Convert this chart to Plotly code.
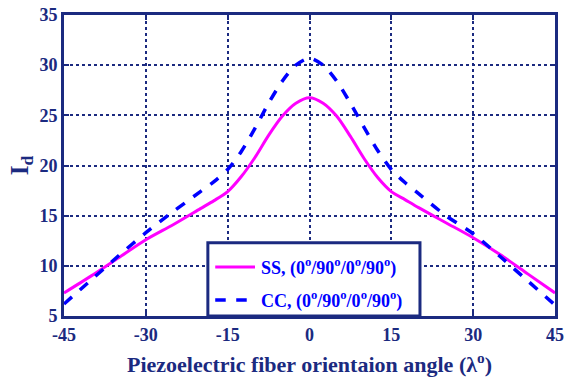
import plotly.graph_objects as go

# Fiber orientation angle (degrees)
angle = [-45, -40, -35, -30, -25, -20, -17.5, -15, -12.5, -10, -7.5, -5, -2.5, 0,
         2.5, 5, 7.5, 10, 12.5, 15, 17.5, 20, 25, 30, 35, 40, 45]

# I_d for simply supported (SS) and clamped (CC) laminates, (0/90/0/90)
ss_values = [7.3, 9.0, 10.8, 12.6, 14.1, 15.7, 16.5, 17.4, 18.9, 20.8, 23.0, 24.9, 26.2, 26.75,
             26.2, 24.9, 22.9, 20.7, 18.8, 17.4, 16.6, 15.8, 14.3, 12.8, 11.1, 9.2, 7.3]
cc_values = [6.2, 8.6, 11.0, 13.3, 15.4, 17.4, 18.4, 19.6, 21.4, 23.7, 26.2, 28.4, 30.0, 30.7,
             30.0, 28.4, 26.2, 23.8, 21.5, 19.6, 18.3, 17.2, 15.0, 13.2, 10.9, 8.5, 6.1]

x_ticks = [-45, -30, -15, 0, 15, 30, 45]
y_ticks = [5, 10, 15, 20, 25, 30, 35]

series_names = ["SS, (0<sup>o</sup>/90<sup>o</sup>/0<sup>o</sup>/90<sup>o</sup>)",
                "CC, (0<sup>o</sup>/90<sup>o</sup>/0<sup>o</sup>/90<sup>o</sup>)"]
series_colors = ["#ff00ff", "#0000ff"]
series_dash = ["solid", "dash"]
series_width = [3, 3.5]

navy = "#1b2a80"
font_family = "Liberation Serif, Times New Roman, serif"

fig = go.Figure()
for vals, name, col, dash, w in zip([ss_values, cc_values], series_names,
                                    series_colors, series_dash, series_width):
    fig.add_trace(go.Scatter(
        x=angle, y=vals, mode="lines", line_shape="spline",
        line=dict(color=col, width=w, dash=dash, smoothing=0.8),
        name=name, showlegend=False,
    ))

axis_common = dict(
    showline=True, linecolor=navy, linewidth=3, mirror="allticks",
    ticks="inside", ticklen=5, tickwidth=2, tickcolor=navy,
    showgrid=True, gridcolor=navy, griddash="dot", gridwidth=1.5,
    zeroline=False, automargin=False,
    tickfont=dict(family=font_family, size=18, color=navy, weight="bold"),
)

fig.update_xaxes(
    range=[-45, 45], tickvals=x_ticks, ticktext=[str(v) for v in x_ticks],
    title=dict(text="Piezoelectric fiber orientaion angle (λ<sup>o</sup>)",
               font=dict(family=font_family, size=22, color=navy, weight="bold"),
               standoff=14),
    **axis_common,
)
fig.update_yaxes(
    range=[5, 35], tickvals=y_ticks, ticktext=[str(v) for v in y_ticks],
    title=dict(text="I<sub>d</sub>",
               font=dict(family=font_family, size=25, color=navy, weight="bold"),
               standoff=4),
    **axis_common,
)

# Legend box drawn in plot-area coordinates
box_x0, box_x1, box_y0, box_y1 = 0.293, 0.725, 0.0, 0.243
fig.add_shape(type="rect", xref="x domain", yref="y domain",
              x0=box_x0, x1=box_x1, y0=box_y0, y1=box_y1,
              line=dict(color=navy, width=3), fillcolor="white", layer="above")
row_y = [0.163, 0.053]
for ry, name, col, dash, w in zip(row_y, series_names, series_colors,
                                  series_dash, series_width):
    fig.add_shape(type="line", xref="x domain", yref="y domain",
                  x0=0.308, x1=0.389, y0=ry, y1=ry,
                  line=dict(color=col, width=w, dash=dash), layer="above")
    fig.add_annotation(xref="x domain", yref="y domain", x=0.398, y=ry,
                       xanchor="left", yanchor="middle", showarrow=False,
                       text=name,
                       font=dict(family=font_family, size=18, color="#0000ff",
                                 weight="bold"))

fig.update_layout(
    width=565, height=381,
    margin=dict(l=64, r=10, t=15, b=65),
    paper_bgcolor="white", plot_bgcolor="white",
    showlegend=False,
)

fig.write_html("out.html")
